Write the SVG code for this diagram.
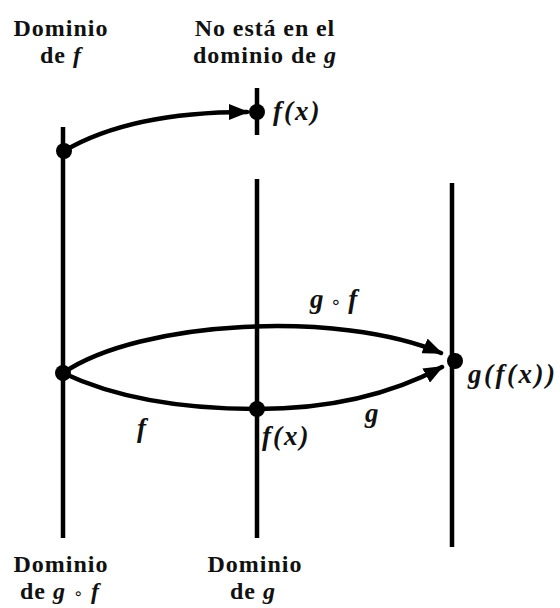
<svg xmlns="http://www.w3.org/2000/svg" width="560" height="608" viewBox="0 0 560 608">
<defs>
<marker id="ah" viewBox="0 0 20 16" refX="18" refY="8" markerWidth="20" markerHeight="16" markerUnits="userSpaceOnUse" orient="auto">
<path d="M0,0 L20,8 L0,16 Z" fill="#000"/>
</marker>
</defs>
<rect width="560" height="608" fill="#fff"/>
<g id="axes" stroke="#000" stroke-width="4.5" fill="none">
<line x1="63" y1="127" x2="63" y2="538"/>
<line x1="257" y1="88" x2="257" y2="135"/>
<line x1="257" y1="179" x2="257" y2="538"/>
<line x1="452" y1="183" x2="452" y2="547"/>
</g>
<g id="connectors" stroke="#000" stroke-width="4.5" fill="none" stroke-linecap="round">
<path d="M64,151 C110,124 170,112 247,112" marker-end="url(#ah)"/>
<path d="M63,373 C140,320 340,310 441,353" marker-end="url(#ah)"/>
<path d="M63,373 C120,400 190,409 257,409 C330,409 390,395 442,367" marker-end="url(#ah)"/>
</g>
<g id="node-x-top"><circle cx="64" cy="151" r="8" fill="#000"/></g>
<g id="node-fx-top"><circle cx="257" cy="112" r="8" fill="#000"/>
<text font-family="Liberation Serif" font-weight="bold" font-style="italic" font-size="27" letter-spacing="2" fill="#111" x="273" y="120">f(x)</text></g>
<g id="node-x"><circle cx="63" cy="373" r="8" fill="#000"/></g>
<g id="node-fx"><circle cx="257" cy="409" r="8" fill="#000"/>
<text font-family="Liberation Serif" font-weight="bold" font-style="italic" font-size="27" letter-spacing="2" fill="#111" x="262" y="445">f(x)</text></g>
<g id="node-gfx"><circle cx="455" cy="361" r="8" fill="#000"/>
<text font-family="Liberation Serif" font-weight="bold" font-style="italic" font-size="27" letter-spacing="2.5" fill="#111" x="468" y="383">g(f(x))</text></g>
<g id="edge-labels">
<text font-family="Liberation Serif" font-weight="bold" font-style="italic" font-size="27" fill="#111" x="310" y="308">g <tspan font-family="DejaVu Sans" font-style="normal" font-weight="normal" font-size="18">&#8728;</tspan> f</text>
<text font-family="Liberation Serif" font-weight="bold" font-style="italic" font-size="27" fill="#111" x="137" y="437">f</text>
<text font-family="Liberation Serif" font-weight="bold" font-style="italic" font-size="27" fill="#111" x="365" y="422">g</text>
</g>
<g id="label-dom-f">
<text font-family="Liberation Serif" font-weight="bold" font-size="24" letter-spacing="1" fill="#111" text-anchor="middle" x="61" y="36">Dominio</text>
<text font-family="Liberation Serif" font-weight="bold" font-size="24" letter-spacing="1" fill="#111" text-anchor="middle" x="61" y="63">de <tspan font-style="italic">f</tspan></text>
</g>
<g id="label-no-dom-g">
<text font-family="Liberation Serif" font-weight="bold" font-size="24" letter-spacing="0.9" fill="#111" text-anchor="middle" x="265" y="36">No est&#225; en el</text>
<text font-family="Liberation Serif" font-weight="bold" font-size="24" letter-spacing="1" fill="#111" text-anchor="middle" x="265" y="63">dominio de <tspan font-style="italic">g</tspan></text>
</g>
<g id="label-dom-gf">
<text font-family="Liberation Serif" font-weight="bold" font-size="24" letter-spacing="1" fill="#111" text-anchor="middle" x="61" y="572">Dominio</text>
<text font-family="Liberation Serif" font-weight="bold" font-size="24" letter-spacing="1" fill="#111" text-anchor="middle" x="60" y="599">de <tspan font-style="italic">g</tspan> <tspan font-family="DejaVu Sans" font-weight="normal" font-size="16">&#8728;</tspan> <tspan font-style="italic">f</tspan></text>
</g>
<g id="label-dom-g">
<text font-family="Liberation Serif" font-weight="bold" font-size="24" letter-spacing="1" fill="#111" text-anchor="middle" x="255" y="572">Dominio</text>
<text font-family="Liberation Serif" font-weight="bold" font-size="24" letter-spacing="1" fill="#111" text-anchor="middle" x="253" y="599">de <tspan font-style="italic">g</tspan></text>
</g>
</svg>
